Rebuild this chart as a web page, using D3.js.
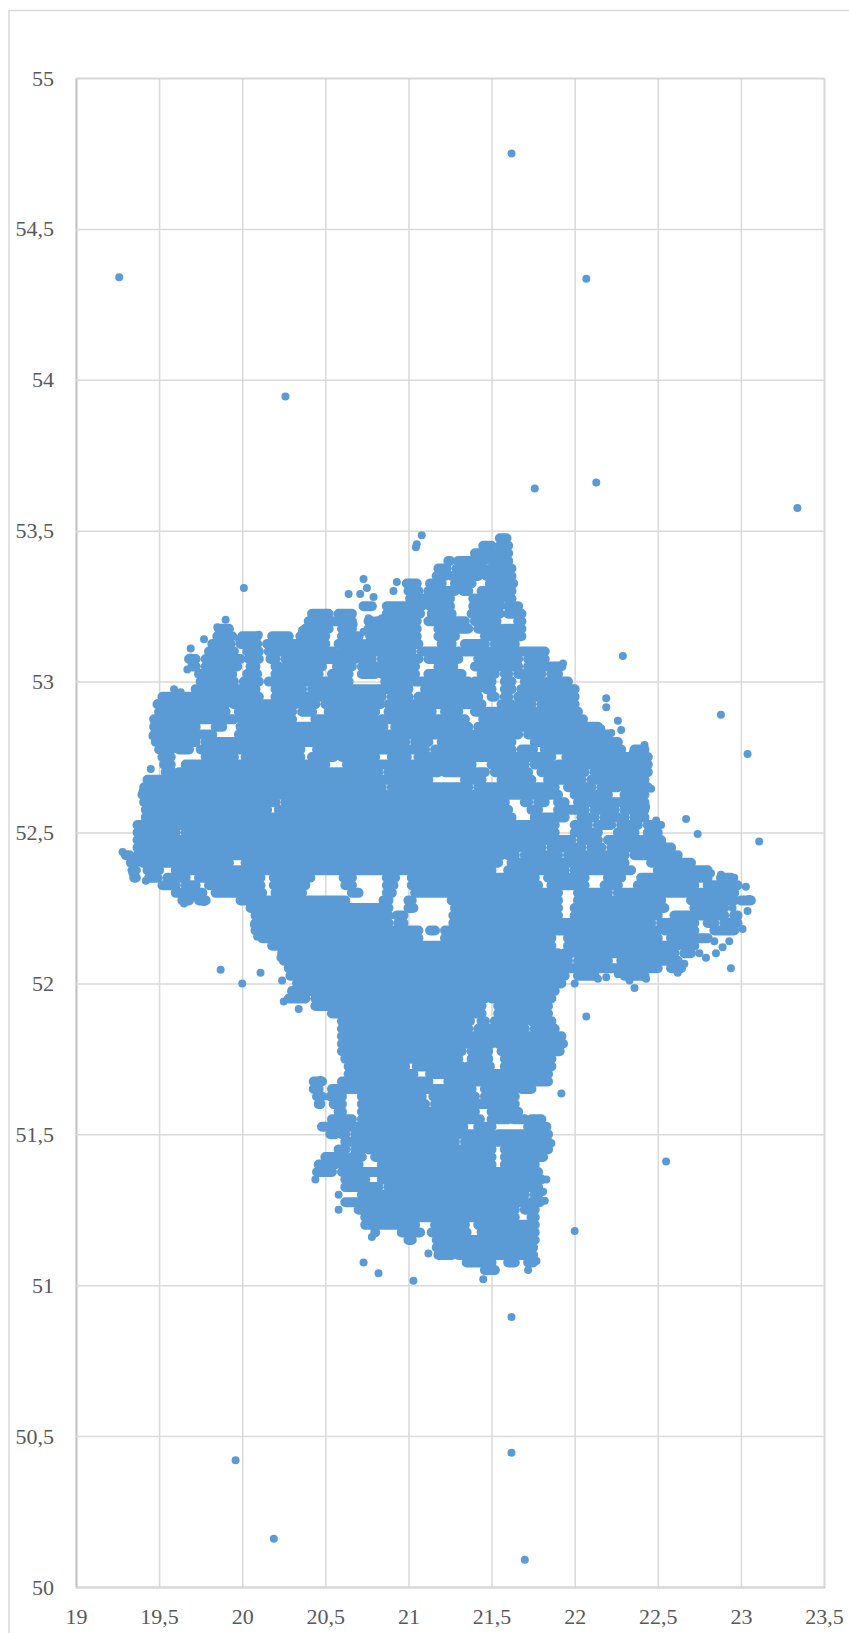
<!DOCTYPE html>
<html>
<head>
<meta charset="utf-8">
<script src="https://cdn.jsdelivr.net/npm/d3@7"></script>
<style>
  body { margin: 0; background: #fff; }
  text { font-family: "Liberation Serif", serif; }
</style>
</head>
<body>
<div id="chart"></div>
<script>
// Tick values
var xTicks = [19, 19.5, 20, 20.5, 21, 21.5, 22, 22.5, 23, 23.5];
var yTicks = [50, 50.5, 51, 51.5, 52, 52.5, 53, 53.5, 54, 54.5, 55];

// Points that can be told apart in the picture: strays first, then the ones on the rim of the cloud
var pointLon = [19.26, 21.62, 22.07, 20.26, 21.76, 22.13, 23.34, 21.08, 21.05, 21.045, 20.01, 22.29, 22.88, 22.19, 22.19, 23.04, 22.67, 22.74, 23.11, 22.94, 19.87, 20, 20.11, 22.07, 21.92, 22.55, 22, 20.73, 20.82, 21.03, 21.62, 21.62, 19.96, 20.19, 21.7,
  20.73, 20.64, 20.71, 20.75, 20.79, 20.93, 20.91, 19.9, 22.43, 23.05, 23.04, 22.95, 23.03, 22.89, 22.85, 22.79, 22.75, 22.84, 22.93, 22, 22.36, 22.33, 20.25, 20.34, 21.12, 20.58, 20.58,
  19.77, 19.85, 19.98, 20.06, 20.1, 19.69, 19.69, 19.67, 19.59, 19.63, 19.5, 19.47, 19.46, 19.45, 19.4, 20.17, 20.23, 20.36, 20.42, 20.49, 20.59, 20.65, 20.67, 20.63, 20.73, 20.79, 20.76, 20.84,
  21.93, 21.98, 22.03, 22.16, 22.22, 22.28, 22.26, 22.42, 22.35, 22.46, 22.49, 22.52, 22.53, 22.62, 22.72, 22.82, 22.88, 22.96, 23.01, 22.98, 22.66, 22.62, 22.43, 22.14, 22.19, 22.26,
  21.79, 21.86, 21.83, 21.81, 21.82, 21.77, 21.72, 21.45, 20.78, 20.47, 20.44, 19.28, 19.34, 19.42, 19.65, 19.77, 19.71, 20.07, 20.09, 20.23, 20.24];
var pointLat = [54.34, 54.75, 54.335, 53.945, 53.64, 53.66, 53.575, 53.485, 53.455, 53.445, 53.31, 53.085, 52.89, 52.945, 52.915, 52.76, 52.545, 52.495, 52.47, 52.05, 52.045, 52, 52.035, 51.89, 51.635, 51.41, 51.18, 51.075, 51.04, 51.015, 50.895, 50.445, 50.42, 50.16, 50.09,
  53.34, 53.29, 53.29, 53.31, 53.28, 53.33, 53.3, 53.205, 52.585, 52.28, 52.24, 52.25, 52.32, 52.12, 52.1, 52.085, 52.1, 52.14, 52.14, 52, 51.985, 52.01, 51.94, 51.915, 51.105, 51.3, 51.25,
  53.14, 53.18, 53.14, 53.15, 53.155, 53.11, 53.08, 53.04, 52.975, 52.965, 52.93, 52.855, 52.82, 52.71, 52.635, 53.13, 53.14, 53.17, 53.21, 53.225, 53.22, 53.225, 53.19, 53.17, 53.165, 53.16, 53.21, 53.21,
  53.06, 52.965, 52.87, 52.845, 52.83, 52.84, 52.87, 52.79, 52.765, 52.645, 52.54, 52.525, 52.46, 52.4, 52.37, 52.365, 52.36, 52.35, 52.18, 52.22, 52.065, 52.035, 52.015, 52.015, 52.02, 52.03,
  51.55, 51.47, 51.35, 51.31, 51.28, 51.08, 51.05, 51.02, 51.16, 51.68, 51.35, 52.435, 52.365, 52.34, 52.265, 52.27, 52.29, 52.195, 52.155, 52.085, 52.01];

// Most of the cloud has merged into solid blue, so single points can't be read there.
// Each latitude row lists the lon from/to pairs where the markers run together.
var denseLat = [53.475, 53.45, 53.425, 53.4, 53.375, 53.35, 53.325, 53.3, 53.275, 53.25, 53.225, 53.2, 53.175, 53.15, 53.125, 53.1, 53.075, 53.05, 53.025, 53,
  52.975, 52.95, 52.925, 52.9, 52.875, 52.85, 52.825, 52.8, 52.775, 52.75, 52.725, 52.7, 52.675, 52.65, 52.625, 52.6, 52.575, 52.55, 52.525, 52.5,
  52.475, 52.45, 52.425, 52.4, 52.375, 52.35, 52.325, 52.3, 52.275, 52.25, 52.225, 52.2, 52.175, 52.15, 52.125, 52.1, 52.075, 52.05, 52.025, 52,
  51.975, 51.95, 51.925, 51.9, 51.875, 51.85, 51.825, 51.8, 51.775, 51.75, 51.725, 51.7, 51.675, 51.65, 51.625, 51.6, 51.575, 51.55, 51.525, 51.5,
  51.475, 51.45, 51.425, 51.4, 51.375, 51.35, 51.325, 51.3, 51.275, 51.25, 51.225, 51.2, 51.175, 51.15, 51.125, 51.1, 51.075, 51.05, 51.03];
var denseSpans = [
  [21.55,21.59],
  [21.45,21.5, 21.55,21.6],
  [21.4,21.52, 21.56,21.6],
  [21.24,21.25, 21.3,21.45, 21.5,21.6],
  [21.18,21.23, 21.29,21.46, 21.5,21.62],
  [21.17,21.22, 21.26,21.42, 21.47,21.62],
  [20.99,21.05, 21.13,21.2, 21.28,21.38, 21.49,21.63],
  [21,21.06, 21.12,21.28, 21.33,21.36, 21.44,21.52, 21.55,21.62],
  [21.01,21.25, 21.39,21.56, 21.6,21.62],
  [20.73,20.78, 20.87,21.08, 21.13,21.25, 21.39,21.55, 21.6,21.66],
  [20.42,20.52, 20.58,20.66, 20.87,21.07, 21.14,21.26, 21.38,21.55, 21.6,21.68],
  [20.4,20.66, 20.76,20.78, 20.81,21.05, 21.12,21.34, 21.4,21.53, 21.66,21.68],
  [19.86,19.92, 20.38,20.52, 20.6,20.66, 20.76,21.05, 21.18,21.36, 21.42,21.55, 21.58,21.68],
  [19.85,19.94, 20,20.09, 20.18,20.28, 20.35,20.5, 20.6,20.7, 20.77,21.05, 21.18,21.28, 21.46,21.55, 21.58,21.68],
  [19.82,19.93, 19.99,20.09, 20.15,20.5, 20.58,20.72, 20.75,21.06, 21.2,21.26, 21.34,21.46, 21.52,21.64],
  [19.8,19.95, 20.03,20.1, 20.16,20.55, 20.6,20.9, 20.92,21.02, 21.08,21.28, 21.3,21.44, 21.48,21.82],
  [19.68,19.72, 19.78,19.99, 20.04,20.1, 20.17,20.2, 20.26,20.62, 20.64,20.68, 20.72,20.78, 20.84,21.06, 21.12,21.3, 21.42,21.66, 21.72,21.82],
  [19.7,19.72, 19.78,19.97, 20.05,20.08, 20.2,20.22, 20.26,20.48, 20.57,20.66, 20.72,20.82, 20.84,21.04, 21.18,21.27, 21.4,21.66, 21.72,21.78, 21.82,21.92],
  [19.74,19.94, 20.03,20.09, 20.2,20.46, 20.54,20.64, 20.72,20.8, 20.84,21.04, 21.12,21.32, 21.44,21.52, 21.58,21.6, 21.66,21.8, 21.86,21.9],
  [19.75,19.95, 20.01,20.1, 20.16,20.26, 20.3,20.64, 20.86,21.36, 21.4,21.5, 21.58,21.62, 21.7,21.8, 21.84,21.96],
  [19.72,19.82, 19.86,20.08, 20.2,20.36, 20.42,20.45, 20.5,21, 21.1,21.42, 21.47,21.5, 21.58,21.62, 21.68,22],
  [19.52,19.58, 19.6,19.86, 19.9,20.1, 20.2,20.55, 20.6,20.7, 20.72,20.84, 20.9,21, 21.06,21.42, 21.5,21.52, 21.58,21.6, 21.66,22],
  [19.49,19.9, 19.95,20.32, 20.36,20.44, 20.5,20.83, 20.88,21.2, 21.24,21.44, 21.56,21.62, 21.66,21.74, 21.8,22],
  [19.5,19.9, 19.98,20.3, 20.36,20.42, 20.52,20.8, 20.88,21.14, 21.22,21.3, 21.4,21.45, 21.48,22.02],
  [19.47,19.7, 19.75,19.95, 20,20.3, 20.44,20.8, 20.84,21.34, 21.45,22.05],
  [19.47,19.72, 19.84,19.88, 19.99,20.85, 20.92,21.36, 21.42,22.14],
  [19.47,19.82, 19.98,20.9, 20.92,21.2, 21.24,21.66, 21.72,22.2],
  [19.48,19.58, 19.6,19.72, 19.78,20.98, 21.04,21.12, 21.2,21.62, 21.76,22.26],
  [19.5,19.57, 19.62,19.68, 19.75,20.35, 20.45,21.1, 21.16,21.62, 21.68,21.75, 21.82,22.28, 22.36,22.42],
  [19.52,19.57, 19.78,19.95, 20.02,20.35, 20.42,20.55, 20.6,20.8, 20.9,20.99, 21.06,21.13, 21.18,21.86, 21.95,22.44],
  [19.53,19.57, 19.66,20.5, 20.63,21.38, 21.5,21.7, 21.76,21.86, 21.9,22.44],
  [19.54,19.58, 19.62,20.82, 20.88,21.18, 21.22,21.46, 21.52,21.72, 21.8,22.06, 22.12,22.44],
  [19.43,19.95, 20,21.12, 21.34,21.44, 21.56,21.74, 21.84,22.04, 22.1,22.42],
  [19.41,20.84, 20.9,21.36, 21.42,21.88, 21.96,22.1, 22.16,22.26, 22.3,22.44],
  [19.4,21.7, 21.74,21.9, 22,22.2, 22.3,22.42],
  [19.41,20, 20.05,20.2, 20.26,21.58, 21.7,21.72, 21.78,21.82, 21.9,21.94, 22.02,22.16, 22.2,22.28, 22.32,22.42],
  [19.42,20.15, 20.22,21.6, 21.74,21.78, 21.9,22.06, 22.12,22.24, 22.3,22.34, 22.36,22.42],
  [19.42,21.62, 21.76,21.94, 22.04,22.12, 22.18,22.3, 22.36,22.42],
  [19.37,21.88, 22,22.08, 22.14,22.22, 22.28,22.38, 22.44,22.48],
  [19.37,19.42, 19.46,19.6, 19.66,21.88, 22,22.14, 22.26,22.36, 22.44,22.5],
  [19.37,20.82, 20.86,21.68, 21.72,21.98, 22.04,22.14, 22.2,22.52],
  [19.37,21.66, 21.7,21.8, 21.86,22.04, 22.1,22.16, 22.22,22.58],
  [19.3,19.32, 19.37,21.56, 21.6,21.64, 21.7,21.9, 21.96,22.3, 22.36,22.62],
  [19.33,19.35, 19.4,19.92, 20.02,21.54, 21.62,22.3, 22.46,22.7],
  [19.34,19.36, 19.43,19.5, 19.6,20.58, 20.62,21.5, 21.6,21.74, 21.78,21.94, 22,22.2, 22.24,22.34, 22.5,22.66, 22.7,22.8],
  [19.35,19.36, 19.44,19.49, 19.55,19.66, 19.74,20.11, 20.19,20.41, 20.61,20.66, 20.87,20.92, 21.02,21.76, 21.84,22.06, 22.2,22.28, 22.4,22.8, 22.88,22.94],
  [19.52,19.6, 19.66,19.72, 19.8,20.11, 20.19,20.38, 20.62,20.66, 20.87,20.91, 21.02,21.78, 21.86,22.06, 22.18,22.26, 22.38,22.72, 22.8,22.98],
  [19.6,19.64, 19.68,19.76, 19.84,20.12, 20.2,20.36, 20.66,20.7, 20.87,20.9, 21.04,21.72, 21.76,21.9, 22.02,22.2, 22.26,22.74, 22.76,22.96],
  [19.64,19.68, 19.74,19.78, 19.99,20.62, 20.85,20.88, 21,21.02, 21.26,21.9, 22.02,22.52, 22.7,22.96, 23,23.06],
  [20.05,20.88, 21,21.03, 21.28,21.9, 22,22.18, 22.22,22.46, 22.5,22.54, 22.72,22.9],
  [20.08,20.88, 20.93,20.97, 21.27,21.9, 22,22.5, 22.6,22.9, 22.96,22.98],
  [20.08,20.88, 20.94,20.97, 21.27,22.46, 22.52,22.72, 22.8,22.84, 22.9,22.98],
  [20.08,20.92, 20.96,21.06, 21.13,21.16, 21.22,22.5, 22.54,22.72, 22.84,22.96],
  [20.12,21, 21.04,21.06, 21.22,21.86, 21.96,22.5, 22.58,22.8],
  [20.18,21.86, 21.96,22.62, 22.66,22.72],
  [20.24,21.9, 21.94,21.98, 22.02,22.1, 22.14,22.6, 22.66,22.7],
  [20.25,21.96, 22.02,22.2, 22.28,22.62],
  [20.28,22.5, 22.58,22.64],
  [20.29,21.94, 22.02,22.12, 22.3,22.42],
  [20.33,21.92],
  [20.3,21.88],
  [20.28,20.38, 20.44,21.46, 21.5,21.86],
  [20.44,21.44, 21.54,21.84],
  [20.54,21.44, 21.54,21.84],
  [20.6,21.37, 21.44,21.46, 21.52,21.7, 21.74,21.86],
  [20.6,21.36, 21.42,21.7, 21.76,21.88],
  [20.6,21.92],
  [20.6,21.5, 21.54,21.93],
  [20.6,21.32, 21.38,21.48, 21.56,21.91],
  [20.62,21.04, 21.08,21.3, 21.38,21.48, 21.58,21.86],
  [20.64,20.98, 21.05,21.32, 21.36,21.49, 21.58,21.86],
  [20.64,20.85, 20.88,21.03, 21.13,21.36, 21.39,21.84],
  [20.43,20.48, 20.6,20.76, 20.8,21.02, 21.06,21.12, 21.24,21.36, 21.4,21.62, 21.66,21.68, 21.72,21.84],
  [20.43,20.46, 20.54,20.57, 20.62,20.76, 20.8,21.38, 21.46,21.64, 21.68,21.74],
  [20.45,20.48, 20.53,20.6, 20.72,21.08, 21.15,21.4, 21.46,21.64],
  [20.46,20.47, 20.55,20.6, 20.72,21.1, 21.16,21.64],
  [20.58,20.6, 20.72,20.92, 20.96,21.4, 21.5,21.66],
  [20.54,20.66, 20.72,21.43, 21.5,21.6, 21.63,21.7, 21.74,21.8],
  [20.48,20.56, 20.6,21.33, 21.42,21.5, 21.72,21.83],
  [20.53,20.56, 20.6,20.62, 20.68,21.3, 21.33,21.5, 21.54,21.84],
  [20.62,20.7, 20.74,21.28, 21.34,21.84],
  [20.58,20.62, 20.68,20.72, 20.76,21.5, 21.58,21.84],
  [20.5,20.62, 20.66,20.72, 20.8,21.5, 21.58,21.81],
  [20.46,20.56, 20.6,20.7, 20.84,21.5, 21.58,21.76],
  [20.45,20.54, 20.6,21.78],
  [20.62,20.74, 20.84,21.8],
  [20.62,20.82, 20.88,21.62, 21.66,21.78],
  [20.72,21.7, 21.76,21.78],
  [20.62,20.7, 20.74,21.7, 21.74,21.79],
  [20.7,21.42, 21.46,21.64, 21.7,21.76],
  [20.74,21.5, 21.54,21.64, 21.74,21.76],
  [20.74,21.04, 21.16,21.34, 21.42,21.48, 21.52,21.76],
  [20.8,20.8, 20.96,21.07, 21.14,21.35, 21.44,21.76],
  [21,21.02, 21.17,21.76],
  [21.17,21.75],
  [21.18,21.26, 21.3,21.75],
  [21.35,21.5, 21.6,21.64, 21.72,21.75],
  [21.46,21.52],
  []
];

var width = 849, height = 1633;
var plotLeft = 76, plotRight = 824, plotTop = 78, plotBottom = 1587;
var blue = '#5b9bd5';

var svg = d3.select('#chart').append('svg')
  .attr('width', width)
  .attr('height', height)
  .style('display', 'block');

var x = d3.scaleLinear().domain([19, 23.5]).range([plotLeft, plotRight]);
var y = d3.scaleLinear().domain([50, 55]).range([plotBottom, plotTop]);

function comma(d) { return String(d).replace('.', ','); }

// Chart frame
svg.append('path')
  .attr('d', 'M9,' + height + 'V10.5H' + width)
  .attr('fill', 'none')
  .attr('stroke', '#d9d9d9')
  .attr('stroke-width', 1.5);

// Axes, the inner ticks double as the grid
var gx = svg.append('g')
  .attr('transform', 'translate(0,' + plotBottom + ')')
  .call(d3.axisBottom(x).tickValues(xTicks).tickFormat(comma).tickSize(-(plotBottom - plotTop)).tickPadding(21));
var gy = svg.append('g')
  .attr('transform', 'translate(' + plotLeft + ',0)')
  .call(d3.axisLeft(y).tickValues(yTicks).tickFormat(comma).tickSize(-(plotRight - plotLeft)).tickPadding(22));

[gx, gy].forEach(function(g) {
  g.selectAll('.tick line').attr('stroke', '#d9d9d9').attr('stroke-width', 1.5);
  g.select('.domain').attr('stroke', '#bfbfbf').attr('stroke-width', 1.5);
  g.selectAll('text')
    .attr('fill', '#595959')
    .style('font-family', '"Liberation Serif", serif')
    .style('font-size', '22px');
});

// Merged markers
svg.append('g').selectAll('path')
  .data(denseLat)
  .enter().append('path')
  .attr('d', function(lat, i) {
    var d = '', spans = denseSpans[i];
    for (var j = 0; j < spans.length; j += 2) {
      d += 'M' + x(spans[j]) + ',' + y(lat) + 'L' + x(spans[j + 1]) + ',' + y(lat);
    }
    return d;
  })
  .attr('fill', 'none')
  .attr('stroke', blue)
  .attr('stroke-width', 10)
  .attr('stroke-linecap', 'round');

// Single markers
svg.append('g').selectAll('circle')
  .data(pointLon)
  .enter().append('circle')
  .attr('cx', function(d) { return x(d); })
  .attr('cy', function(d, i) { return y(pointLat[i]); })
  .attr('r', 4)
  .attr('fill', blue);
</script>
</body>
</html>
